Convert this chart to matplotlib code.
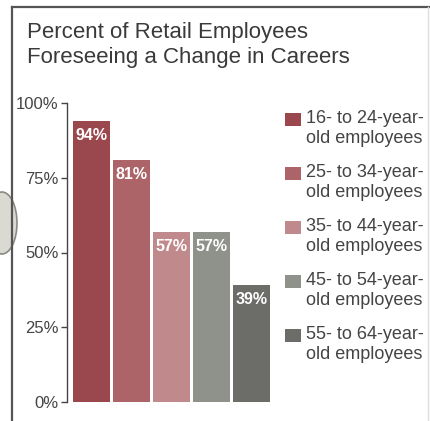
import matplotlib.pyplot as plt
from matplotlib.patches import Rectangle, Ellipse
from matplotlib.lines import Line2D

# Share of retail employees who expect to change careers, by age group
groups = ['16- to 24-year-\nold employees', '25- to 34-year-\nold employees',
          '35- to 44-year-\nold employees', '45- to 54-year-\nold employees',
          '55- to 64-year-\nold employees']
percent = [94, 81, 57, 57, 39]
colors = ['#9a474d', '#ad6468', '#c08a8d', '#8f918b', '#6c6c68']
yticks = [0, 25, 50, 75, 100]

plt.rcParams['font.family'] = ['Liberation Sans', 'DejaVu Sans']

W, H = 431, 421
fig = plt.figure(figsize=(W / 100, H / 100), dpi=100)
fig.patch.set_facecolor('white')

def px(x, y):
    # pixel position (from top-left) to figure fraction
    return x / W, 1 - y / H

# page frame and the pin on the left edge
fig.add_artist(Ellipse(px(2, 223), 30 / W, 62 / H, transform=fig.transFigure,
                       facecolor='#dadad2', edgecolor='#8a8a84', lw=1.2))
fig.add_artist(Line2D([12 / W, 12 / W], [0, 1 - 7 / H], transform=fig.transFigure,
                      color='#555555', lw=1.6))
fig.add_artist(Line2D([12 / W, 1], [1 - 7 / H, 1 - 7 / H], transform=fig.transFigure,
                      color='#555555', lw=1.6))
fig.add_artist(Line2D([428 / W, 428 / W], [0, 1 - 7 / H], transform=fig.transFigure,
                      color='#dddddd', lw=1.0))

fig.text(*px(27, 22), 'Percent of Retail Employees\nForeseeing a Change in Careers',
         fontsize=16, color='#3a3a3a', ha='left', va='top', linespacing=1.28)

ax = fig.add_axes([67 / W, 1 - 401.7 / H, (271.5 - 67) / W, (401.7 - 103.3) / H])
x = range(len(percent))
ax.bar(x, percent, width=0.925, color=colors)
for xi, v in zip(x, percent):
    ax.annotate(f'{v}%', (xi, v), xytext=(0, -5), textcoords='offset points',
                ha='center', va='top', color='white', fontsize=11.5, fontweight='bold')

ax.set_xlim(-0.6125, 4.5)
ax.set_ylim(0, 100)
ax.set_yticks(yticks)
ax.set_yticklabels([f'{t}%' for t in yticks])
ax.set_xticks([])
for s in ['top', 'right', 'bottom']:
    ax.spines[s].set_visible(False)
ax.spines['left'].set_color('#444444')
ax.spines['left'].set_linewidth(1.0)
ax.tick_params(axis='y', length=4, width=1, color='#444444', pad=2,
               labelsize=12, labelcolor='#444444')
ax.set_facecolor('none')

# key: one square per age group with a two-line label
for i, (lab, c) in enumerate(zip(groups, colors)):
    top = 113 + 54 * i
    fig.add_artist(Rectangle(px(285, top + 13), 16 / W, 13 / H,
                             transform=fig.transFigure, facecolor=c, edgecolor='none'))
    fig.text(*px(306, top - 3), lab, fontsize=13, color='#444444',
             ha='left', va='top', linespacing=1.25)

fig.savefig('out.png', dpi=100)
